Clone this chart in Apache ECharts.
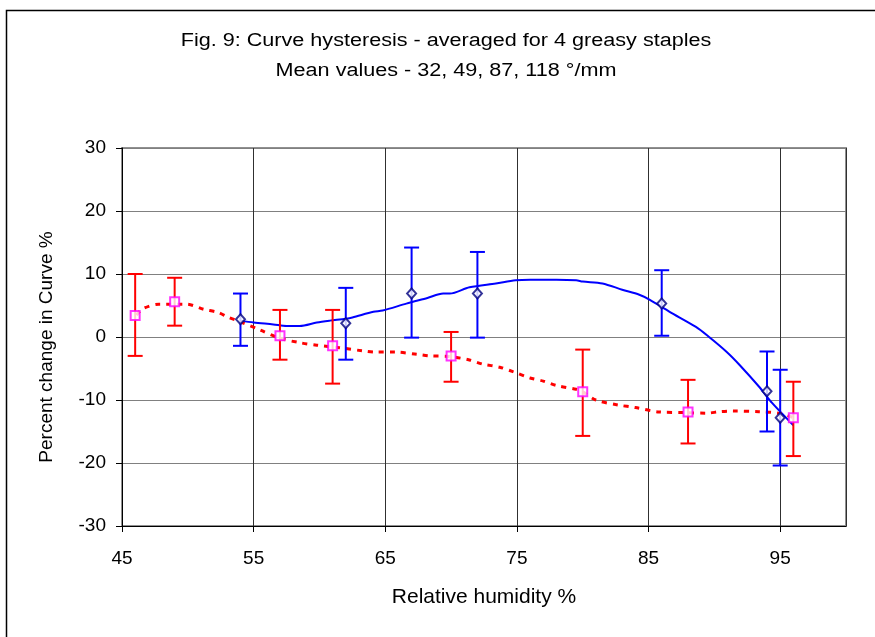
<!DOCTYPE html>
<html>
<head>
<meta charset="utf-8">
<title>Curve hysteresis</title>
<script src="https://cdn.jsdelivr.net/npm/echarts@6/dist/echarts.min.js"></script>
<style>
  html, body { margin: 0; padding: 0; background: #fff; }
  #chart { width: 875px; height: 637px; }
</style>
</head>
<body>
<div id="chart"></div>
<script>
// Absorption branch: mean values with error bar limits
const blueX = [54, 62, 67, 72, 86, 94, 95];
const blueY = [2.8, 2.2, 6.9, 6.9, 5.3, -8.6, -12.8];
const blueLow = [-1.4, -3.6, -0.1, -0.1, 0.2, -15.0, -20.4];
const blueHigh = [6.9, 7.8, 14.2, 13.5, 10.6, -2.3, -5.2];

// Desorption branch: mean values with error bar limits
const redX = [46, 49, 57, 61, 70, 80, 88, 96];
const redY = [3.4, 5.6, 0.2, -1.4, -3.0, -8.7, -11.9, -12.8];
const redLow = [-3.0, 1.8, -3.6, -7.4, -7.1, -15.7, -16.9, -18.9];
const redHigh = [10.0, 9.4, 4.3, 4.3, 0.8, -2.0, -6.8, -7.1];

// Smoothed trend curves (humidity, change)
const blueTrendX = [54.0, 55.0, 56.5, 57.5, 58.5, 59.8, 60.8, 62.0, 62.5, 64.1, 64.8, 66.6, 68.2, 69.4, 69.9, 71.4, 73.4, 74.9, 76.0, 78.0, 79.5, 80.0, 81.5, 83.0, 84.3, 85.1, 86.6, 88.6, 89.6, 90.9, 91.9, 93.4, 94.4, 96.0];
const blueTrendY = [2.6, 2.3, 2.0, 1.75, 1.75, 2.3, 2.6, 2.9, 3.1, 4.0, 4.2, 5.3, 6.2, 6.9, 6.9, 7.9, 8.5, 9.0, 9.1, 9.1, 9.0, 8.8, 8.5, 7.5, 6.7, 5.9, 4.0, 1.6, 0.0, -2.3, -4.4, -7.9, -10.5, -14.0];
const redTrendX = [46.1, 46.6, 47.8, 49.9, 51.2, 52.3, 53.1, 54.0, 55.5, 57.0, 58.5, 59.8, 61.5, 63.3, 64.3, 65.8, 67.4, 68.4, 69.9, 71.4, 72.4, 73.7, 74.7, 76.0, 77.0, 78.0, 79.5, 80.0, 81.0, 82.7, 84.0, 85.8, 87.8, 89.4, 90.4, 91.4, 93.4, 94.9, 96.0];
const redTrendY = [3.5, 4.5, 5.2, 5.2, 4.4, 3.9, 3.1, 2.4, 1.1, -0.2, -0.9, -1.3, -1.7, -2.2, -2.4, -2.4, -2.75, -3.0, -3.1, -3.65, -4.3, -4.8, -5.5, -6.5, -7.0, -7.7, -8.3, -8.7, -10.0, -10.8, -11.2, -11.9, -12.0, -12.1, -11.85, -11.75, -11.85, -12.1, -12.8];

// Axis ticks
const xTicks = [45, 55, 65, 75, 85, 95];
const yTicks = [-30, -20, -10, 0, 10, 20, 30];

const titleLines = [
  'Fig. 9: Curve hysteresis - averaged for 4 greasy staples',
  'Mean values - 32, 49, 87, 118 °/mm'
];

const zip = (a, b) => a.map((v, i) => [v, b[i]]);
const zip3 = (a, b, c) => a.map((v, i) => [v, b[i], c[i]]);

// Vertical bar with end caps from the low to the high limit
function errorBarRenderer(color) {
  return function (params, api) {
    const x = api.value(0);
    const lo = api.coord([x, api.value(1)]);
    const hi = api.coord([x, api.value(2)]);
    const half = 7.5;
    const style = { stroke: color, lineWidth: 2 };
    return {
      type: 'group',
      children: [
        { type: 'line', shape: { x1: hi[0], y1: hi[1], x2: lo[0], y2: lo[1] }, style },
        { type: 'line', shape: { x1: hi[0] - half, y1: hi[1], x2: hi[0] + half, y2: hi[1] }, style },
        { type: 'line', shape: { x1: lo[0] - half, y1: lo[1], x2: lo[0] + half, y2: lo[1] }, style }
      ]
    };
  };
}

const font = '"Liberation Sans", Arial, sans-serif';
const chart = echarts.init(document.getElementById('chart'), null, { renderer: 'canvas' });

chart.setOption({
  backgroundColor: '#ffffff',
  animation: false,
  graphic: [
    {
      type: 'rect',
      shape: { x: 6.5, y: 10.5, width: 900, height: 700 },
      style: { fill: 'none', stroke: '#000', lineWidth: 1.5 },
      silent: true
    },
    {
      type: 'text',
      x: 446,
      y: 26,
      scaleX: 1.2,
      silent: true,
      style: {
        text: titleLines.join('\n'),
        align: 'center',
        verticalAlign: 'top',
        lineHeight: 30,
        font: '18px ' + font,
        fill: '#000'
      }
    }
  ],
  grid: {
    left: 122, right: 29, top: 148, bottom: 111,
    show: true, borderColor: '#909090', borderWidth: 2, backgroundColor: 'transparent'
  },
  xAxis: {
    type: 'value',
    min: xTicks[0],
    max: 100,
    interval: 10,
    name: 'Relative humidity %',
    nameLocation: 'middle',
    nameGap: 61,
    nameTextStyle: { fontFamily: font, fontSize: 21, color: '#000' },
    axisLine: { show: true, onZero: false, lineStyle: { color: '#000', width: 1 } },
    axisTick: { show: true, inside: false, length: 6, lineStyle: { color: '#000' } },
    axisLabel: {
      fontFamily: font, fontSize: 19, color: '#000', margin: 23,
      showMaxLabel: false,
      formatter: v => (xTicks.includes(v) ? String(v) : '')
    },
    splitLine: { show: true, lineStyle: { color: '#303030', width: 1 } }
  },
  yAxis: {
    type: 'value',
    min: yTicks[0],
    max: yTicks[yTicks.length - 1],
    interval: 10,
    name: 'Percent change in Curve %',
    nameLocation: 'middle',
    nameGap: 66,
    nameTextStyle: { fontFamily: font, fontSize: 19, color: '#000', padding: [0, 20, 0, 0] },
    axisLine: { show: true, onZero: false, lineStyle: { color: '#000', width: 1 } },
    axisTick: { show: true, inside: false, length: 6, lineStyle: { color: '#000' } },
    axisLabel: { fontFamily: font, fontSize: 19, color: '#000', margin: 16 },
    splitLine: { show: true, lineStyle: { color: '#808080', width: 1 } }
  },
  series: [
    {
      name: 'absorption trend',
      type: 'line',
      data: zip(blueTrendX, blueTrendY),
      smooth: 0.3,
      symbol: 'none',
      lineStyle: { color: '#0000FF', width: 2 },
      z: 3
    },
    {
      name: 'desorption trend',
      type: 'line',
      data: zip(redTrendX, redTrendY),
      smooth: 0.3,
      symbol: 'none',
      lineStyle: { color: '#FF0000', width: 3, type: [5, 6] },
      z: 3
    },
    {
      name: 'absorption error',
      type: 'custom',
      renderItem: errorBarRenderer('#0000FF'),
      data: zip3(blueX, blueLow, blueHigh),
      encode: { x: 0, y: [1, 2] },
      z: 4
    },
    {
      name: 'desorption error',
      type: 'custom',
      renderItem: errorBarRenderer('#FF0000'),
      data: zip3(redX, redLow, redHigh),
      encode: { x: 0, y: [1, 2] },
      z: 4
    },
    {
      name: 'absorption',
      type: 'scatter',
      data: zip(blueX, blueY),
      symbol: 'diamond',
      symbolSize: [9, 10],
      itemStyle: { color: '#ffffff', borderColor: '#000080', borderWidth: 2 },
      z: 5
    },
    {
      name: 'desorption',
      type: 'scatter',
      data: zip(redX, redY),
      symbol: 'rect',
      symbolSize: 9,
      itemStyle: { color: '#ffffff', borderColor: '#FF00FF', borderWidth: 2 },
      z: 5
    }
  ]
});
</script>
</body>
</html>
